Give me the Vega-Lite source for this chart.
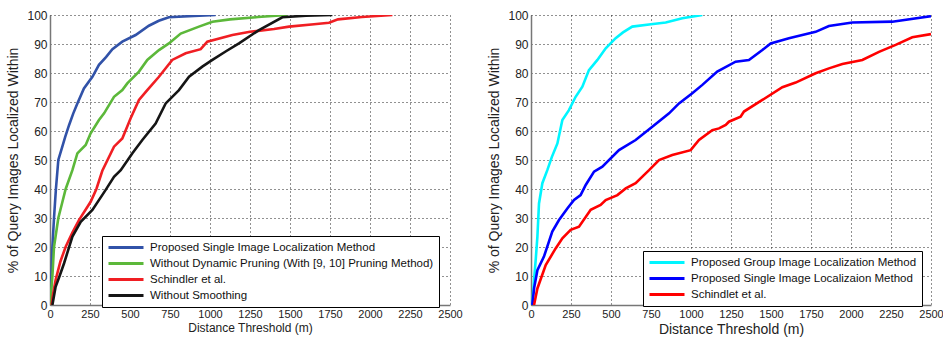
{
  "$schema": "https://vega.github.io/schema/vega-lite/v6.json",
  "background": "white",
  "padding": {"left": 6, "top": 9, "right": 4, "bottom": 3},
  "spacing": 81,
  "bounds": "flush",
  "config": {
    "font": "Liberation Sans",
    "view": {"stroke": null},
    "axis": {
      "domainColor": "#777777",
      "domainWidth": 1.5,
      "gridColor": "#222222",
      "gridDash": [1, 3],
      "gridOpacity": 1,
      "ticks": false,
      "labelFlush": false,
      "labelColor": "#222222",
      "titleColor": "#222222",
      "titleFontWeight": "normal",
      "labelFontSize": 11
    },
    "legend": {
      "strokeColor": "black",
      "fillColor": "white",
      "padding": 5,
      "rowPadding": 3,
      "labelFontSize": 11.5,
      "labelLimit": 500,
      "labelColor": "#111111",
      "symbolType": "M-1,0H6",
      "symbolSize": 100,
      "symbolStrokeWidth": 3,
      "labelOffset": 30
    }
  },
  "datasets": {
    "left": [
      {"s": "Proposed Single Image Localization Method", "d": 0, "p": 0},
      {"s": "Proposed Single Image Localization Method", "d": 5, "p": 5},
      {"s": "Proposed Single Image Localization Method", "d": 10, "p": 12},
      {"s": "Proposed Single Image Localization Method", "d": 15, "p": 20},
      {"s": "Proposed Single Image Localization Method", "d": 25, "p": 30},
      {"s": "Proposed Single Image Localization Method", "d": 37, "p": 40},
      {"s": "Proposed Single Image Localization Method", "d": 52, "p": 50},
      {"s": "Proposed Single Image Localization Method", "d": 77, "p": 54.6},
      {"s": "Proposed Single Image Localization Method", "d": 95, "p": 58},
      {"s": "Proposed Single Image Localization Method", "d": 119, "p": 62},
      {"s": "Proposed Single Image Localization Method", "d": 145, "p": 66},
      {"s": "Proposed Single Image Localization Method", "d": 171, "p": 69.5},
      {"s": "Proposed Single Image Localization Method", "d": 212, "p": 74.7},
      {"s": "Proposed Single Image Localization Method", "d": 265, "p": 78.7},
      {"s": "Proposed Single Image Localization Method", "d": 306, "p": 82.8},
      {"s": "Proposed Single Image Localization Method", "d": 350, "p": 85.5},
      {"s": "Proposed Single Image Localization Method", "d": 390, "p": 88.2},
      {"s": "Proposed Single Image Localization Method", "d": 452, "p": 90.8},
      {"s": "Proposed Single Image Localization Method", "d": 535, "p": 93.1},
      {"s": "Proposed Single Image Localization Method", "d": 618, "p": 96.3},
      {"s": "Proposed Single Image Localization Method", "d": 680, "p": 98},
      {"s": "Proposed Single Image Localization Method", "d": 743, "p": 99.2},
      {"s": "Proposed Single Image Localization Method", "d": 900, "p": 99.7},
      {"s": "Proposed Single Image Localization Method", "d": 1035, "p": 100},
      {"s": "Without Dynamic Pruning (With [9, 10] Pruning Method)", "d": 0, "p": 0},
      {"s": "Without Dynamic Pruning (With [9, 10] Pruning Method)", "d": 8, "p": 5},
      {"s": "Without Dynamic Pruning (With [9, 10] Pruning Method)", "d": 15, "p": 10},
      {"s": "Without Dynamic Pruning (With [9, 10] Pruning Method)", "d": 25, "p": 20},
      {"s": "Without Dynamic Pruning (With [9, 10] Pruning Method)", "d": 52, "p": 30},
      {"s": "Without Dynamic Pruning (With [9, 10] Pruning Method)", "d": 75, "p": 35},
      {"s": "Without Dynamic Pruning (With [9, 10] Pruning Method)", "d": 98, "p": 40},
      {"s": "Without Dynamic Pruning (With [9, 10] Pruning Method)", "d": 140, "p": 46.5},
      {"s": "Without Dynamic Pruning (With [9, 10] Pruning Method)", "d": 171, "p": 52.3},
      {"s": "Without Dynamic Pruning (With [9, 10] Pruning Method)", "d": 223, "p": 55.2},
      {"s": "Without Dynamic Pruning (With [9, 10] Pruning Method)", "d": 254, "p": 59.2},
      {"s": "Without Dynamic Pruning (With [9, 10] Pruning Method)", "d": 306, "p": 63.8},
      {"s": "Without Dynamic Pruning (With [9, 10] Pruning Method)", "d": 338, "p": 66.1},
      {"s": "Without Dynamic Pruning (With [9, 10] Pruning Method)", "d": 400, "p": 71.8},
      {"s": "Without Dynamic Pruning (With [9, 10] Pruning Method)", "d": 452, "p": 74.1},
      {"s": "Without Dynamic Pruning (With [9, 10] Pruning Method)", "d": 483, "p": 76.4},
      {"s": "Without Dynamic Pruning (With [9, 10] Pruning Method)", "d": 556, "p": 80.5},
      {"s": "Without Dynamic Pruning (With [9, 10] Pruning Method)", "d": 608, "p": 84.5},
      {"s": "Without Dynamic Pruning (With [9, 10] Pruning Method)", "d": 681, "p": 87.9},
      {"s": "Without Dynamic Pruning (With [9, 10] Pruning Method)", "d": 743, "p": 90.2},
      {"s": "Without Dynamic Pruning (With [9, 10] Pruning Method)", "d": 817, "p": 93.6},
      {"s": "Without Dynamic Pruning (With [9, 10] Pruning Method)", "d": 931, "p": 96},
      {"s": "Without Dynamic Pruning (With [9, 10] Pruning Method)", "d": 1015, "p": 97.7},
      {"s": "Without Dynamic Pruning (With [9, 10] Pruning Method)", "d": 1125, "p": 98.5},
      {"s": "Without Dynamic Pruning (With [9, 10] Pruning Method)", "d": 1300, "p": 99.3},
      {"s": "Without Dynamic Pruning (With [9, 10] Pruning Method)", "d": 1483, "p": 100},
      {"s": "Schindler et al.", "d": 10, "p": 0},
      {"s": "Schindler et al.", "d": 20, "p": 4},
      {"s": "Schindler et al.", "d": 35, "p": 8.6},
      {"s": "Schindler et al.", "d": 65, "p": 15},
      {"s": "Schindler et al.", "d": 98, "p": 20.1},
      {"s": "Schindler et al.", "d": 140, "p": 25},
      {"s": "Schindler et al.", "d": 181, "p": 29.3},
      {"s": "Schindler et al.", "d": 254, "p": 35.6},
      {"s": "Schindler et al.", "d": 290, "p": 40},
      {"s": "Schindler et al.", "d": 327, "p": 46.3},
      {"s": "Schindler et al.", "d": 400, "p": 54.6},
      {"s": "Schindler et al.", "d": 452, "p": 57.4},
      {"s": "Schindler et al.", "d": 504, "p": 64.4},
      {"s": "Schindler et al.", "d": 556, "p": 70.7},
      {"s": "Schindler et al.", "d": 608, "p": 74.1},
      {"s": "Schindler et al.", "d": 681, "p": 78.7},
      {"s": "Schindler et al.", "d": 764, "p": 84.5},
      {"s": "Schindler et al.", "d": 848, "p": 86.8},
      {"s": "Schindler et al.", "d": 942, "p": 88.2},
      {"s": "Schindler et al.", "d": 983, "p": 90.8},
      {"s": "Schindler et al.", "d": 1140, "p": 93.1},
      {"s": "Schindler et al.", "d": 1250, "p": 94.2},
      {"s": "Schindler et al.", "d": 1400, "p": 95.2},
      {"s": "Schindler et al.", "d": 1494, "p": 96},
      {"s": "Schindler et al.", "d": 1650, "p": 96.8},
      {"s": "Schindler et al.", "d": 1744, "p": 97.3},
      {"s": "Schindler et al.", "d": 1800, "p": 98.5},
      {"s": "Schindler et al.", "d": 1950, "p": 99.3},
      {"s": "Schindler et al.", "d": 2140, "p": 100},
      {"s": "Without Smoothing", "d": 15, "p": 0},
      {"s": "Without Smoothing", "d": 35, "p": 6.3},
      {"s": "Without Smoothing", "d": 60, "p": 10},
      {"s": "Without Smoothing", "d": 88, "p": 14.4},
      {"s": "Without Smoothing", "d": 140, "p": 23.6},
      {"s": "Without Smoothing", "d": 192, "p": 28.7},
      {"s": "Without Smoothing", "d": 265, "p": 32.8},
      {"s": "Without Smoothing", "d": 348, "p": 39.7},
      {"s": "Without Smoothing", "d": 400, "p": 44.2},
      {"s": "Without Smoothing", "d": 442, "p": 46.5},
      {"s": "Without Smoothing", "d": 515, "p": 52.3},
      {"s": "Without Smoothing", "d": 577, "p": 56.9},
      {"s": "Without Smoothing", "d": 660, "p": 62.6},
      {"s": "Without Smoothing", "d": 723, "p": 69.5},
      {"s": "Without Smoothing", "d": 806, "p": 74.1},
      {"s": "Without Smoothing", "d": 869, "p": 78.7},
      {"s": "Without Smoothing", "d": 952, "p": 82.2},
      {"s": "Without Smoothing", "d": 1015, "p": 84.5},
      {"s": "Without Smoothing", "d": 1100, "p": 87.5},
      {"s": "Without Smoothing", "d": 1181, "p": 90.2},
      {"s": "Without Smoothing", "d": 1306, "p": 94.8},
      {"s": "Without Smoothing", "d": 1452, "p": 99.2},
      {"s": "Without Smoothing", "d": 1600, "p": 99.8},
      {"s": "Without Smoothing", "d": 1765, "p": 100}
    ],
    "right": [
      {"s": "Proposed Group Image Localization Method", "d": 8, "p": 0},
      {"s": "Proposed Group Image Localization Method", "d": 19, "p": 8.6},
      {"s": "Proposed Group Image Localization Method", "d": 30, "p": 16},
      {"s": "Proposed Group Image Localization Method", "d": 40, "p": 23.6},
      {"s": "Proposed Group Image Localization Method", "d": 50, "p": 35},
      {"s": "Proposed Group Image Localization Method", "d": 71, "p": 42},
      {"s": "Proposed Group Image Localization Method", "d": 102, "p": 46.5},
      {"s": "Proposed Group Image Localization Method", "d": 130, "p": 51},
      {"s": "Proposed Group Image Localization Method", "d": 165, "p": 55.7},
      {"s": "Proposed Group Image Localization Method", "d": 196, "p": 63.8},
      {"s": "Proposed Group Image Localization Method", "d": 237, "p": 67.2},
      {"s": "Proposed Group Image Localization Method", "d": 279, "p": 71.8},
      {"s": "Proposed Group Image Localization Method", "d": 321, "p": 75.3},
      {"s": "Proposed Group Image Localization Method", "d": 362, "p": 81},
      {"s": "Proposed Group Image Localization Method", "d": 415, "p": 84.5},
      {"s": "Proposed Group Image Localization Method", "d": 467, "p": 88.5},
      {"s": "Proposed Group Image Localization Method", "d": 529, "p": 92},
      {"s": "Proposed Group Image Localization Method", "d": 575, "p": 94},
      {"s": "Proposed Group Image Localization Method", "d": 633, "p": 96},
      {"s": "Proposed Group Image Localization Method", "d": 750, "p": 96.8},
      {"s": "Proposed Group Image Localization Method", "d": 842, "p": 97.4},
      {"s": "Proposed Group Image Localization Method", "d": 946, "p": 98.9},
      {"s": "Proposed Group Image Localization Method", "d": 1071, "p": 100},
      {"s": "Proposed Single Image Localizaion Method", "d": 8, "p": 0},
      {"s": "Proposed Single Image Localizaion Method", "d": 20, "p": 6},
      {"s": "Proposed Single Image Localizaion Method", "d": 40, "p": 12},
      {"s": "Proposed Single Image Localizaion Method", "d": 81, "p": 16.7},
      {"s": "Proposed Single Image Localizaion Method", "d": 133, "p": 25.3},
      {"s": "Proposed Single Image Localizaion Method", "d": 175, "p": 29.3},
      {"s": "Proposed Single Image Localizaion Method", "d": 227, "p": 33.3},
      {"s": "Proposed Single Image Localizaion Method", "d": 269, "p": 36.2},
      {"s": "Proposed Single Image Localizaion Method", "d": 310, "p": 37.9},
      {"s": "Proposed Single Image Localizaion Method", "d": 342, "p": 41.4},
      {"s": "Proposed Single Image Localizaion Method", "d": 394, "p": 46},
      {"s": "Proposed Single Image Localizaion Method", "d": 446, "p": 47.7},
      {"s": "Proposed Single Image Localizaion Method", "d": 550, "p": 53.4},
      {"s": "Proposed Single Image Localizaion Method", "d": 654, "p": 56.9},
      {"s": "Proposed Single Image Localizaion Method", "d": 758, "p": 61.5},
      {"s": "Proposed Single Image Localizaion Method", "d": 863, "p": 66.1},
      {"s": "Proposed Single Image Localizaion Method", "d": 925, "p": 69.5},
      {"s": "Proposed Single Image Localizaion Method", "d": 1008, "p": 73},
      {"s": "Proposed Single Image Localizaion Method", "d": 1071, "p": 75.9},
      {"s": "Proposed Single Image Localizaion Method", "d": 1164, "p": 80.5},
      {"s": "Proposed Single Image Localizaion Method", "d": 1279, "p": 83.9},
      {"s": "Proposed Single Image Localizaion Method", "d": 1362, "p": 84.5},
      {"s": "Proposed Single Image Localizaion Method", "d": 1446, "p": 87.9},
      {"s": "Proposed Single Image Localizaion Method", "d": 1498, "p": 90.2},
      {"s": "Proposed Single Image Localizaion Method", "d": 1612, "p": 92},
      {"s": "Proposed Single Image Localizaion Method", "d": 1779, "p": 94.2},
      {"s": "Proposed Single Image Localizaion Method", "d": 1862, "p": 96.2},
      {"s": "Proposed Single Image Localizaion Method", "d": 2008, "p": 97.4},
      {"s": "Proposed Single Image Localizaion Method", "d": 2258, "p": 97.7},
      {"s": "Proposed Single Image Localizaion Method", "d": 2500, "p": 99.6},
      {"s": "Schindlet et al.", "d": 19, "p": 0},
      {"s": "Schindlet et al.", "d": 40, "p": 5.7},
      {"s": "Schindlet et al.", "d": 92, "p": 13.8},
      {"s": "Schindlet et al.", "d": 154, "p": 19.5},
      {"s": "Schindlet et al.", "d": 196, "p": 23},
      {"s": "Schindlet et al.", "d": 248, "p": 25.9},
      {"s": "Schindlet et al.", "d": 300, "p": 27},
      {"s": "Schindlet et al.", "d": 373, "p": 32.8},
      {"s": "Schindlet et al.", "d": 435, "p": 34.5},
      {"s": "Schindlet et al.", "d": 467, "p": 36.2},
      {"s": "Schindlet et al.", "d": 540, "p": 37.9},
      {"s": "Schindlet et al.", "d": 592, "p": 40.2},
      {"s": "Schindlet et al.", "d": 654, "p": 42},
      {"s": "Schindlet et al.", "d": 717, "p": 45.4},
      {"s": "Schindlet et al.", "d": 738, "p": 46.5},
      {"s": "Schindlet et al.", "d": 800, "p": 50},
      {"s": "Schindlet et al.", "d": 883, "p": 51.7},
      {"s": "Schindlet et al.", "d": 998, "p": 53.4},
      {"s": "Schindlet et al.", "d": 1050, "p": 56.9},
      {"s": "Schindlet et al.", "d": 1133, "p": 60.3},
      {"s": "Schindlet et al.", "d": 1175, "p": 60.9},
      {"s": "Schindlet et al.", "d": 1217, "p": 62.1},
      {"s": "Schindlet et al.", "d": 1237, "p": 63.2},
      {"s": "Schindlet et al.", "d": 1310, "p": 64.9},
      {"s": "Schindlet et al.", "d": 1331, "p": 66.7},
      {"s": "Schindlet et al.", "d": 1446, "p": 70.7},
      {"s": "Schindlet et al.", "d": 1571, "p": 75.1},
      {"s": "Schindlet et al.", "d": 1654, "p": 76.7},
      {"s": "Schindlet et al.", "d": 1779, "p": 79.9},
      {"s": "Schindlet et al.", "d": 1862, "p": 81.6},
      {"s": "Schindlet et al.", "d": 1946, "p": 83.1},
      {"s": "Schindlet et al.", "d": 2071, "p": 84.5},
      {"s": "Schindlet et al.", "d": 2175, "p": 87.3},
      {"s": "Schindlet et al.", "d": 2279, "p": 89.7},
      {"s": "Schindlet et al.", "d": 2383, "p": 92.3},
      {"s": "Schindlet et al.", "d": 2500, "p": 93.4}
    ]
  },
  "hconcat": [
    {
      "width": 400,
      "height": 290,
      "data": {"name": "left"},
      "mark": {"type": "line", "strokeWidth": 2.6, "clip": true},
      "encoding": {
        "x": {
          "field": "d", "type": "quantitative",
          "scale": {"domain": [0, 2500], "nice": false},
          "axis": {"values": [0, 250, 500, 750, 1000, 1250, 1500, 1750, 2000, 2250, 2500], "format": "d", "title": "Distance Threshold (m)", "titleFontSize": 12, "labelPadding": 3, "titlePadding": 3}
        },
        "y": {
          "field": "p", "type": "quantitative",
          "scale": {"domain": [0, 100], "nice": false},
          "axis": {"values": [0, 10, 20, 30, 40, 50, 60, 70, 80, 90, 100], "title": "% of Query Images Localized Within", "labelFontSize": 12, "titleFontSize": 14, "labelPadding": 3, "titlePadding": 6}
        },
        "color": {
          "field": "s", "type": "nominal",
          "scale": {
            "domain": ["Proposed Single Image Localization Method", "Without Dynamic Pruning (With [9, 10] Pruning Method)", "Schindler et al.", "Without Smoothing"],
            "range": ["#3152a8", "#5cb83a", "#f01e23", "#151515"]
          },
          "legend": {"orient": "none", "legendX": 52, "legendY": 221, "title": null}
        }
      }
    },
    {
      "width": 400,
      "height": 290,
      "data": {"name": "right"},
      "mark": {"type": "line", "strokeWidth": 2.6, "clip": true},
      "encoding": {
        "x": {
          "field": "d", "type": "quantitative",
          "scale": {"domain": [0, 2500], "nice": false},
          "axis": {"values": [0, 250, 500, 750, 1000, 1250, 1500, 1750, 2000, 2250, 2500], "format": "d", "title": "Distance Threshold (m)", "titleFontSize": 14, "labelPadding": 3, "titlePadding": 3}
        },
        "y": {
          "field": "p", "type": "quantitative",
          "scale": {"domain": [0, 100], "nice": false},
          "axis": {"values": [0, 10, 20, 30, 40, 50, 60, 70, 80, 90, 100], "title": "% of Query Images Localized Within", "labelFontSize": 12, "titleFontSize": 14, "labelPadding": 3, "titlePadding": 6}
        },
        "color": {
          "field": "s", "type": "nominal",
          "scale": {
            "domain": ["Proposed Group Image Localization Method", "Proposed Single Image Localizaion Method", "Schindlet et al."],
            "range": ["#00f5ff", "#0000ff", "#ff0000"]
          },
          "legend": {"orient": "none", "legendX": 112, "legendY": 236, "title": null}
        }
      }
    }
  ],
  "resolve": {"scale": {"color": "independent"}}
}
